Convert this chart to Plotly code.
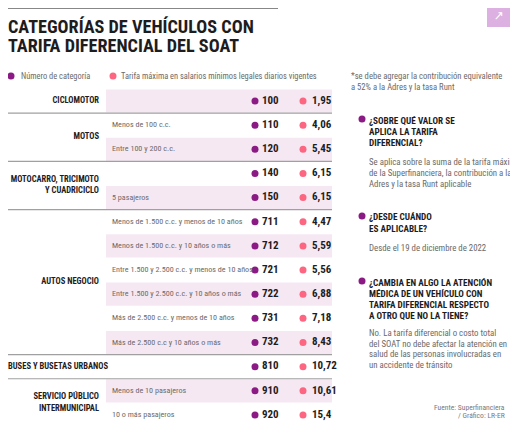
import plotly.graph_objects as go

# --- data ---
categories = ["CICLOMOTOR", "MOTOS", "MOTOCARRO, TRICIMOTO<br>Y CUADRICICLO",
              "AUTOS NEGOCIO", "BUSES Y BUSETAS URBANOS",
              "SERVICIO PÚBLICO<br>INTERMUNICIPAL"]
group_sizes = [1, 2, 2, 6, 1, 2]
subcategories = ["", "Menos de 100 c.c.", "Entre 100 y 200 c.c.",
                 "", "5 pasajeros",
                 "Menos de 1.500 c.c. y menos de 10 años",
                 "Menos de 1.500 c.c. y 10 años o más",
                 "Entre 1.500 y 2.500 c.c. y menos de 10 años",
                 "Entre 1.500 y 2.500 c.c. y 10 años o más",
                 "Más de 2.500 c.c. y menos de 10 años",
                 "Más de 2.500 c.c y 10 años o más",
                 "", "Menos de 10 pasajeros", "10 o más pasajeros"]
codes = [100, 110, 120, 140, 150, 711, 712, 721, 722, 731, 732, 810, 910, 920]
tarifas = [1.95, 4.06, 5.45, 6.15, 6.15, 4.47, 5.59, 5.56, 6.88, 7.18, 8.43, 10.72, 10.61, 15.4]

# --- style ---
PURPLE = "#8b1a84"
PINK = "#fc6680"
SHADE = "#f6e8f3"
DARK = "#1e1c1d"
GRAY = "#6a6a6a"
FONT = "Roboto Condensed, DejaVu Sans Condensed, sans-serif"
WIDE_LABELS = {"BUSES Y BUSETAS URBANOS"}

# the page puts the figure 8px in from the top-left corner
OFF = 8
W, H = 518 - OFF, 438 - OFF
ROW_TOP, ROW_H = 101, 24.15


def px(p):
    return (p - OFF) / W


def py(p):
    return 1 - (p - OFF) / H


rows = list(range(len(codes)))
n = len(rows)
fig = go.Figure()

# dots
fig.add_trace(go.Scatter(x=[255] * n, y=rows, mode="markers",
                         marker=dict(color=PURPLE, size=7), hoverinfo="skip"))
fig.add_trace(go.Scatter(x=[303] * n, y=rows, mode="markers",
                         marker=dict(color=PINK, size=7), hoverinfo="skip"))
# numbers
fig.add_trace(go.Scatter(
    x=[262] * n, y=rows, mode="text",
    text=["<b>%d</b>" % c for c in codes], textposition="middle right",
    textfont=dict(family=FONT, size=11, color=DARK), hoverinfo="skip"))
fig.add_trace(go.Scatter(
    x=[312] * n, y=rows, mode="text",
    text=["<b>%s</b>" % str(t).replace(".", ",") for t in tarifas],
    textposition="middle right",
    textfont=dict(family=FONT, size=11, color=DARK), hoverinfo="skip"))

# subcategories
fig.add_trace(go.Scatter(
    x=[112] * n, y=rows, mode="text", text=subcategories,
    textposition="middle right",
    textfont=dict(family=FONT, size=8.1, color=GRAY), hoverinfo="skip"))

# categories (centered on their group of rows)
cat_y, cat_x, cat_pos = [], [], []
start = 0
for name, size in zip(categories, group_sizes):
    cat_y.append(start + (size - 1) / 2)
    if name in WIDE_LABELS:
        cat_x.append(8)
        cat_pos.append("middle right")
    else:
        cat_x.append(99)
        cat_pos.append("middle left")
    start += size

fig.add_trace(go.Scatter(
    x=cat_x, y=cat_y, mode="text",
    text=["<b>%s</b>" % c for c in categories], textposition=cat_pos,
    textfont=dict(family=FONT, size=8.5, color=DARK), hoverinfo="skip"))

shapes = []
# alternating row shading
for r in rows:
    if r % 2 == 0:
        shapes.append(dict(type="rect", xref="x", yref="y", x0=106, x1=332,
                           y0=r - 0.48, y1=r + 0.48, fillcolor=SHADE,
                           line=dict(width=0), layer="below"))
# group separators
edge = -0.5
for size in group_sizes[:-1]:
    edge += size
    shapes.append(dict(type="line", xref="x", yref="y", x0=OFF, x1=332,
                       y0=edge, y1=edge, line=dict(color="#a0a0a0", width=1.2)))

# top bar
shapes.append(dict(type="rect", xref="paper", yref="paper", x0=px(OFF), x1=px(278),
                   y0=py(8.5), y1=py(5), fillcolor="#111111", line=dict(width=0)))
# icon
shapes.append(dict(type="rect", xref="paper", yref="paper", x0=px(487), x1=px(511),
                   y0=py(27), y1=py(3), fillcolor="#dcb0e0", line=dict(width=0)))


def dot(x, y, color, r=3.5):
    return dict(type="circle", xref="paper", yref="paper",
                x0=px(x - r), x1=px(x + r), y0=py(y + r), y1=py(y - r),
                fillcolor=color, line=dict(width=0))


shapes += [dot(11, 76, PURPLE), dot(113, 76, PINK),
           dot(362, 119, PURPLE), dot(362, 216, PURPLE), dot(362, 281, PURPLE)]

annotations = []


def text(x, y, s, size=9, color=GRAY, bold=False, anchor="left"):
    annotations.append(dict(
        x=px(x), y=py(y), xref="paper", yref="paper", xanchor=anchor, yanchor="middle",
        text="<b>%s</b>" % s if bold else s, showarrow=False, borderpad=0,
        font=dict(family=FONT, size=size, color=color)))


text(OFF - 1, 26.5, "CATEGORÍAS DE VEHÍCULOS CON", 18.2, DARK, True)
text(OFF - 1, 45, "TARIFA DIFERENCIAL DEL SOAT", 18.2, DARK, True)
text(20, 76, "Número de categoría", 8.4)
text(120, 76, "Tarifa máxima en salarios mínimos legales diarios vigentes", 8.4)

text(350, 76, "*se debe agregar la contribución equivalente", 8.6)
text(350, 87, "a 52% a la Adres y la tasa Runt", 8.6)

q1 = ["¿SOBRE QUÉ VALOR SE", "APLICA LA TARIFA", "DIFERENCIAL?"]
a1 = ["Se aplica sobre la suma de la tarifa máxima",
      "de la Superfinanciera, la contribución a la",
      "Adres y la tasa Runt aplicable"]
q2 = ["¿DESDE CUÁNDO", "ES APLICABLE?"]
a2 = ["Desde el 19 de diciembre de 2022"]
q3 = ["¿CAMBIA EN ALGO LA ATENCIÓN", "MÉDICA DE UN VEHÍCULO CON",
      "TARIFA DIFERENCIAL RESPECTO", "A OTRO QUE NO LA TIENE?"]
a3 = ["No. La tarifa diferencial o costo total",
      "del SOAT no debe afectar la atención en",
      "salud de las personas involucradas en",
      "un accidente de tránsito"]

for lines, y0, bold, step in [(q1, 120, True, 11.3), (a1, 162, False, 10.8),
                              (q2, 217, True, 11.3), (a2, 248, False, 11),
                              (q3, 282, True, 11.3), (a3, 333, False, 10.7)]:
    for i, line in enumerate(lines):
        text(368, y0 + i * step, line, 9.2 if bold else 8.8,
             DARK if bold else GRAY, bold)

text(506, 407, "Fuente: Superfinanciera", 7.6, "#7a7a7a", anchor="right")
text(506, 415, "/ Gráfico: LR-ER", 7.6, "#7a7a7a", anchor="right")
text(499, 15, "↗", 13, "white", anchor="center")

fig.update_layout(
    width=W, height=H, margin=dict(l=0, r=0, t=0, b=0),
    paper_bgcolor="white", plot_bgcolor="white", showlegend=False,
    xaxis=dict(range=[OFF, OFF + W], visible=False, fixedrange=True),
    yaxis=dict(range=[(438 - ROW_TOP) / ROW_H, (OFF - ROW_TOP) / ROW_H],
               visible=False, fixedrange=True),
    shapes=shapes, annotations=annotations)

fig.write_html("out.html", config=dict(displayModeBar=False))
